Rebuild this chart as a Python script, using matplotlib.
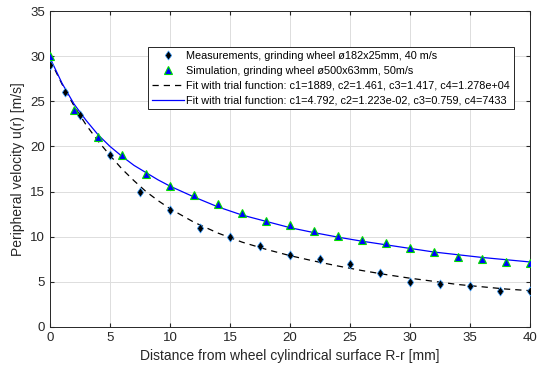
import numpy as np
import matplotlib
matplotlib.use("Agg")
import matplotlib.pyplot as plt
from matplotlib.path import Path

plt.rcParams['font.family'] = ['Liberation Sans', 'DejaVu Sans']

# measurements, wheel 182x25mm, 40 m/s
x_meas = [0, 1.25, 2.5, 5, 7.5, 10, 12.5, 15, 17.5, 20, 22.5, 25, 27.5, 30, 32.5, 35, 37.5, 40]
u_meas = [29, 26, 23.5, 19, 15, 13, 11, 10, 9, 8, 7.5, 7, 6, 5, 4.75, 4.5, 4, 4]

# simulation, wheel 500x63mm, 50 m/s
x_sim = [0, 2, 4, 6, 8, 10, 12, 14, 16, 18, 20, 22, 24, 26, 28, 30, 32, 34, 36, 38, 40]
u_sim = [30, 24, 21, 19, 17, 15.6, 14.6, 13.6, 12.6, 11.7, 11.35, 10.65, 10.05, 9.6, 9.35, 8.7, 8.3, 7.8, 7.55, 7.2, 7.05]

# fit curves
x_fit = [0, 1, 2, 3, 4, 5, 6, 7, 8, 9, 10, 12, 14, 16, 18, 20, 22, 24, 26, 28, 30, 32, 34, 36, 38, 40]
u_fit_meas = [29.6, 26.9, 24.5, 22.4, 20.6, 19.0, 17.5, 16.2, 15.0, 14.0, 13.1, 11.6, 10.4, 9.4, 8.6,
              7.9, 7.3, 6.75, 6.25, 5.8, 5.4, 5.05, 4.7, 4.45, 4.2, 4.02]
u_fit_sim = [29.8, 27.0, 24.7, 22.9, 21.3, 20.0, 18.9, 17.9, 17.1, 16.3, 15.6, 14.4, 13.3, 12.4, 11.7,
             11.0, 10.45, 9.95, 9.5, 9.1, 8.7, 8.3, 8.0, 7.7, 7.45, 7.2]

labels = ['Measurements, grinding wheel ø182x25mm, 40 m/s',
          'Simulation, grinding wheel ø500x63mm, 50m/s',
          'Fit with trial function: c1=1889, c2=1.461, c3=1.417, c4=1.278e+04',
          'Fit with trial function: c1=4.792, c2=1.223e-02, c3=0.759, c4=7433']

# slightly narrow diamond like matlab's 'd'
diamond = Path([(0, 1), (0.7, 0), (0, -1), (-0.7, 0), (0, 1)],
               [Path.MOVETO, Path.LINETO, Path.LINETO, Path.LINETO, Path.CLOSEPOLY])

fig = plt.figure(figsize=(5.38, 3.69), dpi=100)
ax = fig.add_axes([0.093, 0.114, 0.892, 0.856])

ax.plot(x_meas, u_meas, ls='none', marker=diamond, color='k', mec='#3399ff', mew=0.5, ms=6.5,
        label=labels[0], zorder=4)
ax.plot(x_sim, u_sim, '^', color='b', mec='#00dd00', mew=0.8, ms=6, label=labels[1], zorder=4)
ax.plot(x_fit, u_fit_meas, '--', color='k', lw=0.9, dashes=(5, 4), label=labels[2], zorder=3)
ax.plot(x_fit, u_fit_sim, '-', color='b', lw=0.9, label=labels[3], zorder=3)

ax.set_xlim(0, 40)
ax.set_ylim(0, 35)
ax.set_xticks(np.arange(0, 41, 5))
ax.set_yticks(np.arange(0, 36, 5))
ax.grid(True, color='#dddddd', lw=0.7)
ax.set_axisbelow(True)
ax.tick_params(direction='in', top=True, right=True, labelsize=9.5, colors='#262626', length=3)
for s in ax.spines.values():
    s.set_color('#262626')
    s.set_linewidth(0.7)

ax.set_xlabel('Distance from wheel cylindrical surface R-r [mm]', fontsize=10, color='#262626')
ax.set_ylabel('Peripheral velocity u(r) [m/s]', fontsize=10, color='#262626')

leg = ax.legend(loc='upper left', bbox_to_anchor=(0.204, 0.886), fontsize=7.8, fancybox=False,
                framealpha=1, edgecolor='#262626', borderpad=0.35, labelspacing=0.45,
                handlelength=3.0, handletextpad=0.2, borderaxespad=0)
leg.get_frame().set_linewidth(0.7)

fig.savefig('out.png', dpi=100)
